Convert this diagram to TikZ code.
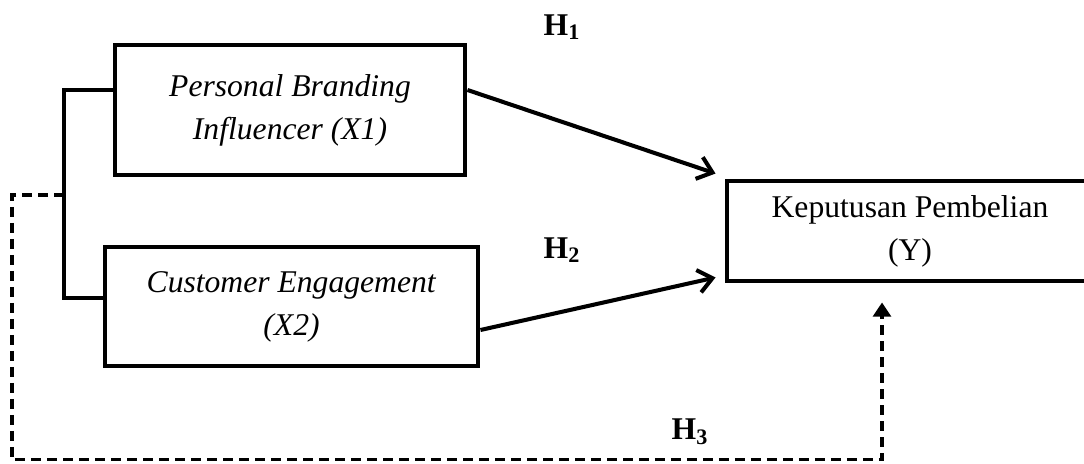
\documentclass[tikz,border=0pt]{standalone}
\usepackage{fontspec}
\setmainfont{Liberation Serif}
\usetikzlibrary{arrows.meta, positioning, calc}

\tikzset{
	varbox/.style = {draw, line width = 2.8pt, align = center, inner sep = 3pt, font = \fontsize{18}{24.5}\selectfont},
	hyp/.style = {font = \fontsize{18}{22}\selectfont\bfseries},
	link/.style = {line width = 2pt},
	effect/.style = {line width = 2.3pt, -{Straight Barb[length = 8pt, width = 13pt]}},
	dashlink/.style = {line width = 2pt, dash pattern = on 5.7pt off 3.4pt, -{Triangle[length = 8pt, width = 10pt]}}
}

\begin{document}
\begin{tikzpicture}
	\useasboundingbox (0cm, 0cm) rectangle (21.68cm, 9.26cm);

	\draw (5.8cm, 7.06cm) node[varbox, minimum width = 7cm, minimum height = 2.6cm] (x1) {\textit{Personal Branding}\\ \textit{Influencer (X1)}}
	(5.83cm, 3.13cm) node[varbox, minimum width = 7.46cm, minimum height = 2.38cm] (x2) {\textit{Customer Engagement}\\ \textit{(X2)}}
	(18.2cm, 4.64cm) node[varbox, minimum width = 7.32cm, minimum height = 2cm] (y) {Keputusan Pembelian\\ (Y)};

	\node[hyp] (h1) at (11.24cm, 8.72cm) {H\textsubscript{1}};
	\node[hyp] (h2) at (11.24cm, 4.26cm) {H\textsubscript{2}};
	\node[hyp] (h3) at (13.8cm, 0.62cm) {H\textsubscript{3}};

	\coordinate (br1) at (1.28cm, 7.46cm);
	\coordinate (br2) at (1.28cm, 3.30cm);
	\coordinate (brm) at (1.28cm, 5.36cm);
	\coordinate (dl) at (0.24cm, 0.07cm);
	\coordinate (h3end) at ($(y.south) + (-0.56cm, -0.38cm)$);

	\draw[link] (x1.west |- br1) -- (br1) -- (br2) -- (x2.west |- br2);

	\draw[effect] (br1 -| x1.east) -- ($(y.north west) + (-0.18cm, 0.1cm)$);
	\draw[effect] ($(x2.east) + (0cm, -0.47cm)$) -- ($(y.south west) + (-0.18cm, 0.12cm)$);

	\draw[dashlink] (brm) -| (dl) -| (h3end);
\end{tikzpicture}
\end{document}
